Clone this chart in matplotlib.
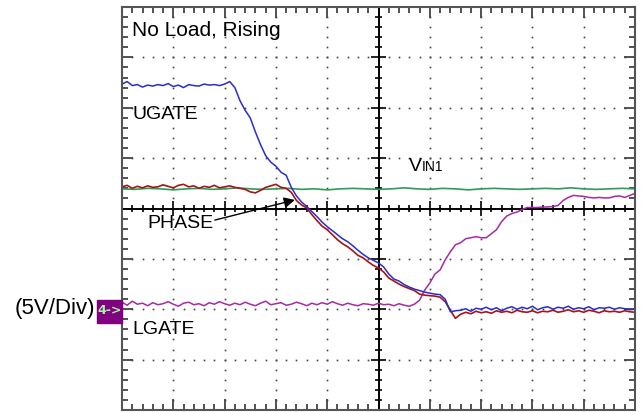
import numpy as np
import matplotlib.pyplot as plt
from matplotlib.patches import Rectangle

# scope traces, y in divisions (5V/Div), sampled across 10 horizontal divisions
ugate = [2.47, 2.52, 2.44, 2.46, 2.41, 2.45, 2.43, 2.46, 2.44, 2.48, 2.42,
         2.45, 2.40, 2.46, 2.44, 2.43, 2.47, 2.45, 2.46, 2.44, 2.47,
         2.52, 2.40, 2.14, 1.95, 1.80, 1.52, 1.27, 1.05, 0.92, 0.84,
         0.72, 0.66, 0.42, 0.25, 0.13, 0.04, -0.06, -0.16, -0.27, -0.36,
         -0.44, -0.52, -0.60, -0.66, -0.74, -0.83, -0.91, -0.98, -1.03, -1.08,
         -1.16, -1.30, -1.40, -1.44, -1.51, -1.56, -1.60, -1.63, -1.66, -1.68,
         -1.70, -1.71, -1.80, -2.05, -2.03,
         -2.02, -1.99, -2.04, -1.98, -2.00, -1.96, -2.01, -1.97, -2.03, -1.98,
         -1.95, -2.00, -1.96, -1.99, -1.94, -2.01, -1.97, -1.95, -2.00, -1.96,
         -1.98, -1.94, -2.00, -1.97, -1.99, -1.95, -2.01, -1.97, -1.98, -1.96,
         -2.00, -1.97, -1.99, -2.01, -2.00]

phase = [0.43, 0.46, 0.40, 0.44, 0.41, 0.45, 0.42, 0.43, 0.47, 0.44, 0.41,
         0.46, 0.48, 0.43, 0.45, 0.40, 0.44, 0.42, 0.46, 0.41, 0.43,
         0.45, 0.42, 0.40, 0.38, 0.33, 0.31, 0.36, 0.42, 0.45, 0.48,
         0.42, 0.40, 0.32, 0.16, 0.07, 0.01, -0.12, -0.24, -0.35, -0.42,
         -0.52, -0.62, -0.70, -0.76, -0.84, -0.93, -0.98, -1.06, -1.13, -1.18,
         -1.26, -1.38, -1.44, -1.50, -1.55, -1.59, -1.63, -1.70, -1.72, -1.73,
         -1.74, -1.76, -1.85, -2.02, -2.18,
         -2.10, -2.06, -2.09, -2.04, -2.07, -2.05, -2.08, -2.03, -2.06, -2.04,
         -2.07, -2.02, -2.05, -2.06, -2.03, -2.07, -2.04, -2.05, -2.02, -2.06,
         -2.04, -2.01, -2.05, -2.03, -2.06, -2.02, -2.04, -2.07, -2.03, -2.05,
         -2.04, -2.06, -2.03, -2.05, -2.06]

lgate = [-1.86, -1.92, -1.84, -1.90, -1.88, -1.93, -1.87, -1.91, -1.89, -1.85,
         -1.90, -1.94, -1.88, -1.86, -1.91, -1.89, -1.93, -1.87, -1.90, -1.85,
         -1.89, -1.92, -1.88, -1.91, -1.86, -1.90, -1.93, -1.88, -1.84, -1.91,
         -1.89, -1.87, -1.92, -1.90, -1.86, -1.89, -1.93, -1.88, -1.91, -1.87,
         -1.90, -1.85, -1.89, -1.92, -1.88, -1.91, -1.93, -1.89, -1.90, -1.92,
         -1.88, -1.91, -1.90, -1.93, -1.89, -1.92, -1.94, -1.90,
         -1.82, -1.62, -1.48, -1.30, -1.22, -1.02, -0.86, -0.72, -0.68, -0.60,
         -0.58, -0.56, -0.58, -0.58, -0.50, -0.42, -0.26, -0.15, -0.10, -0.07,
         -0.02, 0.02, 0.02, 0.02, 0.03, 0.03, 0.04, 0.06, 0.16, 0.22,
         0.26, 0.25, 0.24, 0.22, 0.21, 0.22, 0.21, 0.21, 0.24, 0.25,
         0.22, 0.26, 0.30]

vin1 = [0.39, 0.38, 0.40, 0.39, 0.37, 0.39, 0.40, 0.38, 0.39, 0.41, 0.39,
        0.38, 0.39, 0.40, 0.38, 0.39, 0.37, 0.39, 0.40, 0.39, 0.38,
        0.39, 0.41, 0.39, 0.38, 0.40, 0.39, 0.37, 0.39, 0.40, 0.39,
        0.38, 0.39, 0.40, 0.39, 0.41, 0.39, 0.38, 0.39, 0.40, 0.39]

fig = plt.figure(figsize=(6.44, 4.12), dpi=100)
ax = fig.add_axes([122 / 644, 2 / 412, 513 / 644, 403 / 412])
ax.set_xlim(0, 10)
ax.set_ylim(-4, 4)

# dotted graticule
for gx in [1, 2, 3, 4, 6, 7, 8, 9]:
    yy = np.arange(-3.8, 3.81, 0.2)
    ax.plot(np.full_like(yy, gx), yy, ls='none', marker='s', ms=1.2,
            color='#444444', mew=0)
for gy in [-3, -2, -1, 1, 2, 3]:
    xx = np.arange(0.2, 9.81, 0.2)
    ax.plot(xx, np.full_like(xx, gy), ls='none', marker='s', ms=1.2,
            color='#444444', mew=0)

# centre crosshair with ticks
ax.axhline(0, color='black', lw=1.4)
ax.axvline(5, color='black', lw=1.4)
tx = np.arange(0.2, 9.81, 0.2)
major_x = np.isclose(tx, np.round(tx))
ax.vlines(tx[~major_x], -0.075, 0.075, color='black', lw=1.2)
ax.vlines(tx[major_x], -0.14, 0.14, color='black', lw=1.2)
ty = np.arange(-3.8, 3.81, 0.2)
major_y = np.isclose(ty, np.round(ty))
ax.hlines(ty[~major_y], 4.93, 5.07, color='black', lw=1.2)
ax.hlines(ty[major_y], 4.86, 5.14, color='black', lw=1.2)

# traces
t_u = np.linspace(0, 10, len(ugate))
t_p = np.linspace(0, 10, len(phase))
t_l = np.linspace(0, 10, len(lgate))
t_v = np.linspace(0, 10, len(vin1))
ax.plot(t_v, vin1, color='#2e9b5a', lw=1.2)
ax.plot(t_l, lgate, color='#a52aa5', lw=1.1)
ax.plot(t_p, phase, color='#a51515', lw=1.2)
ax.plot(t_u, ugate, color='#2b2bd0', lw=1.1)

# labels
ax.text(0.2, 3.43, 'No Load, Rising', fontsize=15, family='Liberation Sans')
ax.text(0.2, 1.78, 'UGATE', fontsize=14, family='Liberation Sans')
ax.text(0.2, -2.49, 'LGATE', fontsize=14, family='Liberation Sans')
ax.text(5.59, 0.75, 'V', fontsize=14, family='Liberation Sans')
ax.text(5.85, 0.75, 'IN1', fontsize=10, family='Liberation Sans')
ax.text(0.5, -0.38, 'PHASE', fontsize=14, family='Liberation Sans')
ax.annotate('', xy=(3.37, 0.17), xytext=(1.81, -0.23),
            arrowprops=dict(arrowstyle='-|>', color='black', lw=1.0,
                            mutation_scale=16, shrinkA=0, shrinkB=0))

ax.text(-0.53, -1.99, '(5V/Div)', fontsize=16, family='Liberation Sans',
        ha='right', va='center', clip_on=False)
ax.add_patch(Rectangle((-0.49, -2.27), 0.49, 0.45, color='#800080',
                       clip_on=False, zorder=5))
ax.text(-0.25, -2.03, '4->', fontsize=9, color='#a8f0a8', ha='center',
        va='center', fontweight='bold', clip_on=False, zorder=6)

# border with inward ticks
for s in ax.spines.values():
    s.set_color('#555555')
    s.set_linewidth(1.5)
ax.set_xticks(np.arange(0, 10.01, 1))
ax.set_yticks(np.arange(-4, 4.01, 1))
ax.set_xticks(np.arange(0, 10.01, 0.2), minor=True)
ax.set_yticks(np.arange(-4, 4.01, 0.2), minor=True)
ax.tick_params(which='both', direction='in', top=True, right=True,
               labelbottom=False, labelleft=False, color='#333333', width=1.2)
ax.tick_params(which='major', length=8)
ax.tick_params(which='minor', length=4)

plt.savefig('out.png', dpi=100)
plt.close()
